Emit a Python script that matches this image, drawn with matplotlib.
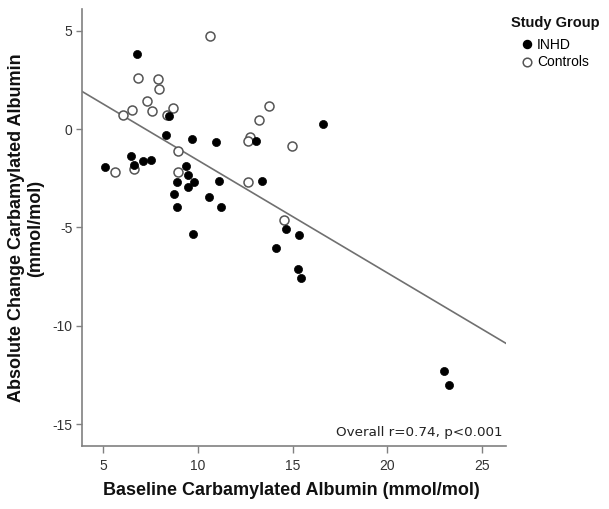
import matplotlib
matplotlib.use("Agg")
import matplotlib.pyplot as plt
from matplotlib.lines import Line2D
import numpy as np

# ---- data ----
inhd_x = [6.79, 8.31, 8.48, 9.70, 10.98, 13.09, 16.61, 6.45, 5.09, 6.62, 7.08, 7.52,
          9.36, 9.47, 8.87, 9.79, 9.45, 11.11, 13.36, 8.73, 10.58, 8.87, 11.20,
          14.64, 9.75, 15.32, 14.13, 15.29, 15.47, 22.98, 23.26]
inhd_y = [3.83, -0.29, 0.64, -0.51, -0.65, -0.63, 0.27, -1.39, -1.95, -1.85, -1.65, -1.58,
          -1.90, -2.32, -2.71, -2.71, -2.95, -2.66, -2.63, -3.29, -3.48, -3.97, -3.98,
          -5.10, -5.34, -5.41, -6.07, -7.12, -7.59, -12.29, -13.00]
ctrl_x = [10.63, 6.85, 7.87, 7.92, 7.32, 6.50, 7.55, 6.02, 8.69, 8.38, 13.76, 13.22,
          12.74, 12.65, 14.97, 8.93, 5.62, 8.93, 12.64, 6.62, 14.54]
ctrl_y = [4.71, 2.59, 2.56, 2.03, 1.45, 0.95, 0.90, 0.73, 1.07, 0.73, 1.15, 0.44,
          -0.38, -0.63, -0.85, -1.10, -2.17, -2.17, -2.68, -2.03, -4.65]
fit_slope = -0.572
fit_intercept = 4.13
x_ticks = [5, 10, 15, 20, 25]
y_ticks = [-15, -10, -5, 0, 5]
group_labels = ["INHD", "Controls"]
legend_title = "Study Group"
stat_text = "Overall r=0.74, p<0.001"
x_label = "Baseline Carbamylated Albumin (mmol/mol)"
y_label = "Absolute Change Carbamylated Albumin\n(mmol/mol)"

plt.rcParams['font.family'] = ['Liberation Sans', 'DejaVu Sans']
plt.rcParams['axes.unicode_minus'] = False

fig = plt.figure(figsize=(6.09, 5.09), dpi=100)
ax = fig.add_axes([0.1351, 0.1244, 0.6957, 0.8574])
ax.set_xlim(3.89, 26.27)
ax.set_ylim(-16.1, 6.09)

# regression line across the axis range
xs = np.array(ax.get_xlim())
ax.plot(xs, fit_intercept + fit_slope * xs, color='#707070', lw=1.2, zorder=2)

ax.scatter(ctrl_x, ctrl_y, s=42, facecolor='white', edgecolor='#555555',
           linewidth=1.1, zorder=3)
ax.scatter(inhd_x, inhd_y, s=34, facecolor='black', edgecolor='black',
           linewidth=0.5, zorder=4)

for side in ['top', 'right']:
    ax.spines[side].set_visible(False)
for side in ['left', 'bottom']:
    ax.spines[side].set_color('#808080')
    ax.spines[side].set_linewidth(1.2)

ax.set_xticks(x_ticks)
ax.set_yticks(y_ticks)
ax.tick_params(direction='out', length=4.5, width=1.0, color='#808080',
               labelcolor='#333333', labelsize=10)
ax.tick_params(axis='x', length=5, pad=4.5)
ax.tick_params(axis='y', pad=2.5)

ax.text(0.991, 0.022, stat_text, transform=ax.transAxes, ha='right',
        va='baseline', fontsize=9.7, family=['DejaVu Sans'], color='#222222')

fig.text(0.4787, 0.0354, x_label, ha='center', va='center',
         fontsize=13, fontweight='bold', color='#111111')
fig.text(0.0425, 0.552, y_label, ha='center', va='center', rotation=90,
         multialignment='center', linespacing=1.15,
         fontsize=13, fontweight='bold', color='#111111')

fig.text(555 / 609, 1 - 23 / 509, legend_title, ha='center', va='center',
         fontsize=10.5, fontweight='bold', color='#111111')
handles = [
    Line2D([], [], marker='o', ls='none', markersize=5.8, markerfacecolor='black',
           markeredgecolor='black'),
    Line2D([], [], marker='o', ls='none', markersize=6.2, markerfacecolor='white',
           markeredgecolor='#555555', markeredgewidth=1.1),
]
leg = fig.legend(handles, group_labels, loc='upper center',
                 bbox_to_anchor=(0.912, 1 - 38 / 509), frameon=False,
                 fontsize=10, handlelength=0.7, handletextpad=0.4, labelspacing=0.25,
                 borderpad=0, borderaxespad=0)

fig.savefig('out.png', dpi=100)
